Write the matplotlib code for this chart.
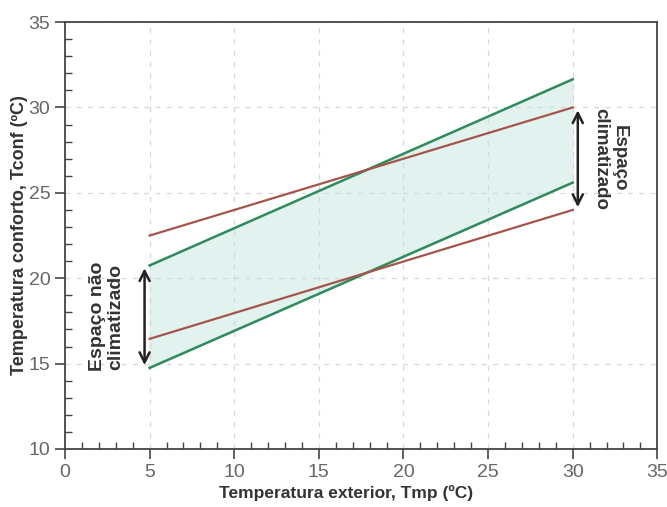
import numpy as np
import matplotlib.pyplot as plt
from matplotlib.ticker import MultipleLocator

# temperatura exterior (ºC)
tmp = [5, 30]
# limites da zona de conforto (espaço não climatizado)
verde_sup = [20.75, 31.65]
verde_inf = [14.75, 25.6]
# limites (espaço climatizado)
verm_sup = [22.5, 30.0]
verm_inf = [16.45, 24.0]

plt.rcParams['font.family'] = ['Liberation Sans Narrow', 'Liberation Sans', 'DejaVu Sans']
bold = ['Liberation Sans', 'DejaVu Sans']

fig = plt.figure(figsize=(6.67, 5.07), dpi=100)
ax = fig.add_axes([0.0975, 0.1144, 0.888, 0.842])

ax.fill_between(tmp, verde_inf, verde_sup, color='#e2f2ee', zorder=1)
ax.plot(tmp, verde_sup, color='#2f8a5c', lw=1.8, zorder=3)
ax.plot(tmp, verde_inf, color='#2f8a5c', lw=1.8, zorder=3)
ax.plot(tmp, verm_sup, color='#a4554a', lw=1.6, zorder=3)
ax.plot(tmp, verm_inf, color='#a4554a', lw=1.6, zorder=3)

# setas
ax.annotate('', xy=(4.7, verde_inf[0]), xytext=(4.7, verde_sup[0]),
            arrowprops=dict(arrowstyle='<->', color='#222222', lw=1.8,
                            mutation_scale=18), zorder=4)
ax.annotate('', xy=(30.3, verm_inf[1]), xytext=(30.3, verm_sup[1]),
            arrowprops=dict(arrowstyle='<->', color='#222222', lw=1.8,
                            mutation_scale=18), zorder=4)

ax.text(2.45, 17.75, 'Espaço não\nclimatizado', rotation=90, ha='center', va='center',
        fontsize=14, fontweight='bold', color='#333333', family=bold, linespacing=1.05)
ax.text(32.2, 27.0, 'Espaço\nclimatizado', rotation=-90, ha='center', va='center',
        fontsize=13.5, fontweight='bold', color='#333333', family=bold, linespacing=1.05)

ax.set_xlim(0, 35)
ax.set_ylim(10, 35)
ax.xaxis.set_major_locator(MultipleLocator(5))
ax.yaxis.set_major_locator(MultipleLocator(5))
ax.xaxis.set_minor_locator(MultipleLocator(1))
ax.yaxis.set_minor_locator(MultipleLocator(1))
ax.tick_params(which='major', direction='out', length=7, width=1.2, color='#444444',
               labelsize=14, labelcolor='#666666')
ax.tick_params(which='minor', direction='in', length=5, width=1.0, color='#444444')
ax.tick_params(top=False, right=False, which='both')

ax.grid(which='major', ls=(0, (4, 5)), color='#d2d7e0', lw=0.9, zorder=0)
for s in ax.spines.values():
    s.set_color('#444444')
    s.set_linewidth(1.3)

ax.set_xlabel('Temperatura exterior, Tmp (ºC)', fontsize=12.5, fontweight='bold',
              color='#333333', family=bold)
ax.set_ylabel('Temperatura conforto, Tconf (ºC)', fontsize=13, fontweight='bold',
              color='#333333', family=bold)
ax.xaxis.set_label_coords(0.475, -0.085)
ax.yaxis.set_label_coords(-0.062, 0.5)

fig.savefig('out.png', dpi=100)
